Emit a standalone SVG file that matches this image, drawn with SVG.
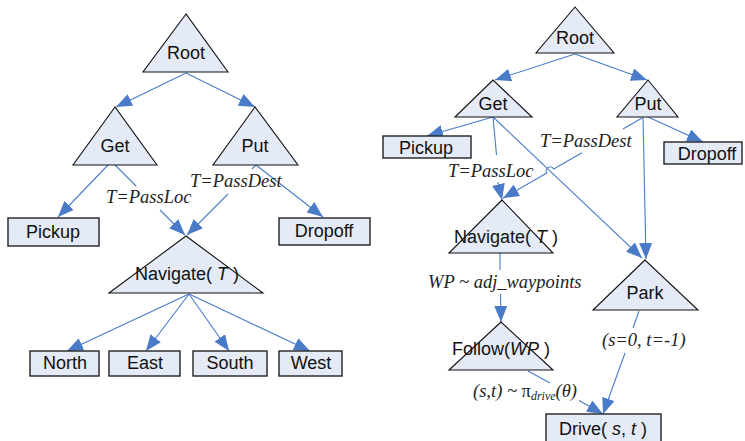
<svg xmlns="http://www.w3.org/2000/svg" width="745" height="441" viewBox="0 0 745 441">
<defs>
<marker id="ah" markerUnits="userSpaceOnUse" markerWidth="16" markerHeight="13" refX="16" refY="6.5" orient="auto">
<path d="M0,0 L16,6.5 L0,13 Z" fill="#4A7BC8"/>
</marker>
<style>
.tri{fill:#E4EAF6;stroke:#111;stroke-width:1.1}
.box{fill:#E4EAF6;stroke:#222;stroke-width:1.4}
.nt{font-family:"Liberation Sans",Arial,sans-serif;font-size:18px;fill:#111;text-anchor:middle}
.lb{font-family:"Liberation Serif","Times New Roman",serif;font-size:18.5px;font-style:italic;fill:#222}
.c{fill:none;stroke:#4A7BC8;stroke-width:1.1}
.it{font-style:italic}
</style>
</defs>
<rect width="745" height="441" fill="#fff"/>

<g id="connectors">
<!-- left -->
<line class="c" x1="186" y1="73" x2="116" y2="107" marker-end="url(#ah)"/>
<line class="c" x1="186" y1="73" x2="255" y2="107" marker-end="url(#ah)"/>
<line class="c" x1="108" y1="165" x2="58" y2="217" marker-end="url(#ah)"/>
<line class="c" x1="115" y1="165" x2="136" y2="186"/>
<line class="c" x1="160" y1="210" x2="185" y2="235" marker-end="url(#ah)"/>
<line class="c" x1="256" y1="165" x2="252" y2="169"/>
<line class="c" x1="228" y1="194" x2="187" y2="235" marker-end="url(#ah)"/>
<line class="c" x1="256" y1="165" x2="323" y2="217" marker-end="url(#ah)"/>
<line class="c" x1="189" y1="294" x2="67" y2="351" marker-end="url(#ah)"/>
<line class="c" x1="189" y1="294" x2="146" y2="351" marker-end="url(#ah)"/>
<line class="c" x1="189" y1="294" x2="229" y2="351" marker-end="url(#ah)"/>
<line class="c" x1="189" y1="294" x2="310" y2="351" marker-end="url(#ah)"/>
<!-- right -->
<line class="c" x1="575" y1="54" x2="495" y2="80" marker-end="url(#ah)"/>
<line class="c" x1="575" y1="54" x2="647" y2="80" marker-end="url(#ah)"/>
<line class="c" x1="493" y1="117" x2="427" y2="136" marker-end="url(#ah)"/>
<line class="c" x1="493" y1="117" x2="496.5" y2="155"/>
<line class="c" x1="497.8" y1="182" x2="502" y2="200" marker-end="url(#ah)"/>
<line class="c" x1="493" y1="117" x2="642" y2="258" marker-end="url(#ah)"/>
<line class="c" x1="642" y1="118" x2="623" y2="129"/>
<path class="c" d="M582,152.7 L553.7,169 A4,4 0 0 0 546.7,173 L503,198.3" marker-end="url(#ah)"/>
<line class="c" x1="648" y1="117" x2="703" y2="142" marker-end="url(#ah)"/>
<line class="c" x1="643" y1="117" x2="646" y2="259" marker-end="url(#ah)"/>
<line class="c" x1="500" y1="253" x2="500" y2="270"/>
<line class="c" x1="500.5" y1="294" x2="501" y2="322" marker-end="url(#ah)"/>
<line class="c" x1="639" y1="311" x2="633" y2="328"/>
<line class="c" x1="625" y1="353" x2="603" y2="414" marker-end="url(#ah)"/>
<line class="c" x1="528" y1="371" x2="550" y2="383"/>
<line class="c" x1="579" y1="400.5" x2="603" y2="414" marker-end="url(#ah)"/>
</g>

<g id="labels">
<text class="lb" x="106" y="203">T=PassLoc</text>
<text class="lb" x="190" y="187">T=PassDest</text>
<text class="lb" x="448" y="177">T=PassLoc</text>
<text class="lb" x="540" y="147">T=PassDest</text>
<text class="lb" x="428" y="288">WP ~ adj_waypoints</text>
<text class="lb" x="602" y="346">(s=0, t=-1)</text>
<text class="lb" x="473" y="397">(s,t) ~ <tspan font-style="normal">π</tspan><tspan font-size="12" dy="3">drive</tspan><tspan dy="-3">(θ)</tspan></text>
</g>

<!-- left nodes -->
<g id="L_root"><polygon class="tri" points="186,14 143,72 228,72"/><text class="nt" x="186" y="59">Root</text></g>
<g id="L_get"><polygon class="tri" points="115,107 73,165 157,165"/><text class="nt" x="115" y="152">Get</text></g>
<g id="L_put"><polygon class="tri" points="255,107 213,165 298,165"/><text class="nt" x="255" y="152">Put</text></g>
<g id="L_pickup"><rect class="box" x="8" y="218" width="91" height="28"/><text class="nt" x="53" y="238">Pickup</text></g>
<g id="L_dropoff"><rect class="box" x="279" y="218" width="91" height="27"/><text class="nt" x="324" y="237">Dropoff</text></g>
<g id="L_navigate"><polygon class="tri" points="186,236 109,293 263,293"/><text class="nt" x="187" y="280">Navigate( <tspan class="it">T</tspan> )</text></g>
<g id="L_north"><rect class="box" x="30" y="351" width="69" height="25"/><text class="nt" x="65" y="369">North</text></g>
<g id="L_east"><rect class="box" x="109" y="351" width="71" height="25"/><text class="nt" x="145" y="369">East</text></g>
<g id="L_south"><rect class="box" x="193" y="351" width="74" height="25"/><text class="nt" x="230" y="369">South</text></g>
<g id="L_west"><rect class="box" x="279" y="351" width="63" height="25"/><text class="nt" x="311" y="369">West</text></g>

<!-- right nodes -->
<g id="R_root"><polygon class="tri" points="575,7 536,53 614,53"/><text class="nt" x="575" y="44">Root</text></g>
<g id="R_get"><polygon class="tri" points="493,80 455,117 532,117"/><text class="nt" x="493" y="110">Get</text></g>
<g id="R_put"><polygon class="tri" points="648,80 617,117 678,117"/><text class="nt" x="648" y="110">Put</text></g>
<g id="R_pickup"><rect class="box" x="383" y="136" width="88" height="22"/><text class="nt" x="426" y="154">Pickup</text></g>
<g id="R_dropoff"><rect class="box" x="664" y="142" width="78" height="22"/><text class="nt" x="707" y="160">Dropoff</text></g>
<g id="R_navigate"><polygon class="tri" points="502,200 449,253 553,253"/><text class="nt" x="506" y="243">Navigate( <tspan class="it">T</tspan> )</text></g>
<g id="R_follow"><polygon class="tri" points="501,322 449,370 553,370"/><text class="nt" x="501" y="355">Follow(<tspan class="it">WP</tspan> )</text></g>
<g id="R_park"><polygon class="tri" points="645,260 593,310 698,310"/><text class="nt" x="645" y="299">Park</text></g>
<g id="R_drive"><rect class="box" x="546" y="414" width="115" height="32"/><text class="nt" x="603" y="435">Drive( <tspan class="it">s</tspan>, <tspan class="it">t</tspan> )</text></g>
</svg>
